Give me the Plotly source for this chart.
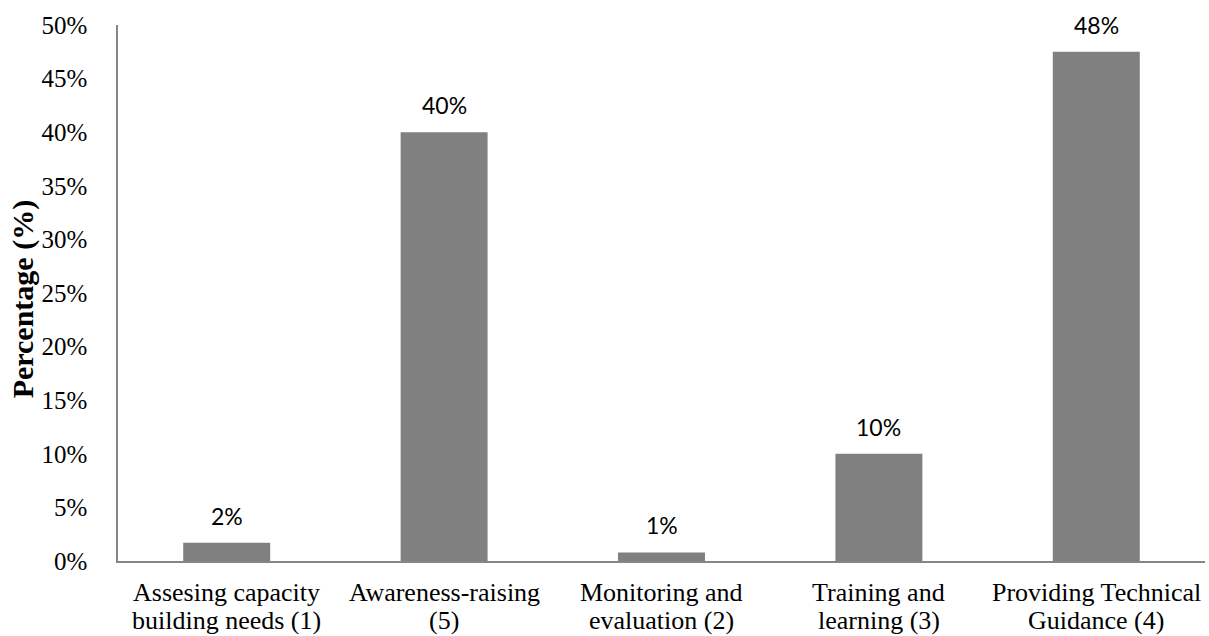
import plotly.graph_objects as go

categories = [
    "Assesing capacity building needs (1)",
    "Awareness-raising (5)",
    "Monitoring and evaluation (2)",
    "Training and learning (3)",
    "Providing Technical Guidance (4)",
]
# each category label is drawn on two lines below the axis
label_lines = [
    ("Assesing capacity", "building needs (1)"),
    ("Awareness-raising", "(5)"),
    ("Monitoring and", "evaluation (2)"),
    ("Training and", "learning (3)"),
    ("Providing Technical", "Guidance (4)"),
]
values = [1.7, 40.0, 0.8, 10.0, 47.5]
value_labels = ["2%", "40%", "1%", "10%", "48%"]
y_ticks = [0, 5, 10, 15, 20, 25, 30, 35, 40, 45, 50]
y_tick_labels = [f"{t}%" for t in y_ticks]

SERIF = "Times New Roman, Liberation Serif, serif"
SANS = "Lato"

fig = go.Figure(
    go.Bar(
        x=categories,
        y=values,
        marker=dict(color="#808080", line=dict(width=0)),
        width=0.4,
        hoverinfo="skip",
    )
)

for cat, val, lab in zip(categories, values, value_labels):
    fig.add_annotation(
        x=cat, y=val, text=lab, showarrow=False,
        yanchor="bottom", yshift=11,
        font=dict(family=SANS, size=23, color="#000000"),
    )

for cat, (first, second) in zip(categories, label_lines):
    for text, shift in ((first, -31), (second, -59)):
        fig.add_annotation(
            x=cat, xref="x", y=0, yref="paper", text=text, showarrow=False,
            xanchor="center", yanchor="middle", yshift=shift,
            font=dict(family=SERIF, size=26, color="#000000"),
        )

fig.add_annotation(
    xref="paper", yref="paper", x=-0.0874, y=0.49,
    text="<b>Percentage (%)</b>", textangle=-90, showarrow=False,
    xanchor="center", yanchor="middle",
    font=dict(family=SERIF, size=30, color="#000000"),
)

fig.update_layout(
    width=1209, height=636,
    margin=dict(l=118, r=4, t=25, b=75),
    paper_bgcolor="white", plot_bgcolor="white",
    showlegend=False,
    font=dict(family=SERIF, size=25, color="#000000"),
    xaxis=dict(
        showline=True, linecolor="#868686", linewidth=1.5,
        ticks="", showgrid=False, automargin=False,
        showticklabels=False,
    ),
    yaxis=dict(
        range=[0, 50], tickvals=y_ticks, ticktext=y_tick_labels,
        showline=True, linecolor="#868686", linewidth=1.5,
        ticks="", showgrid=False, zeroline=False, automargin=False,
        tickfont=dict(family=SERIF, size=25, color="#000000"),
        ticklabelstandoff=24,
    ),
)

fig.write_html("out.html")
